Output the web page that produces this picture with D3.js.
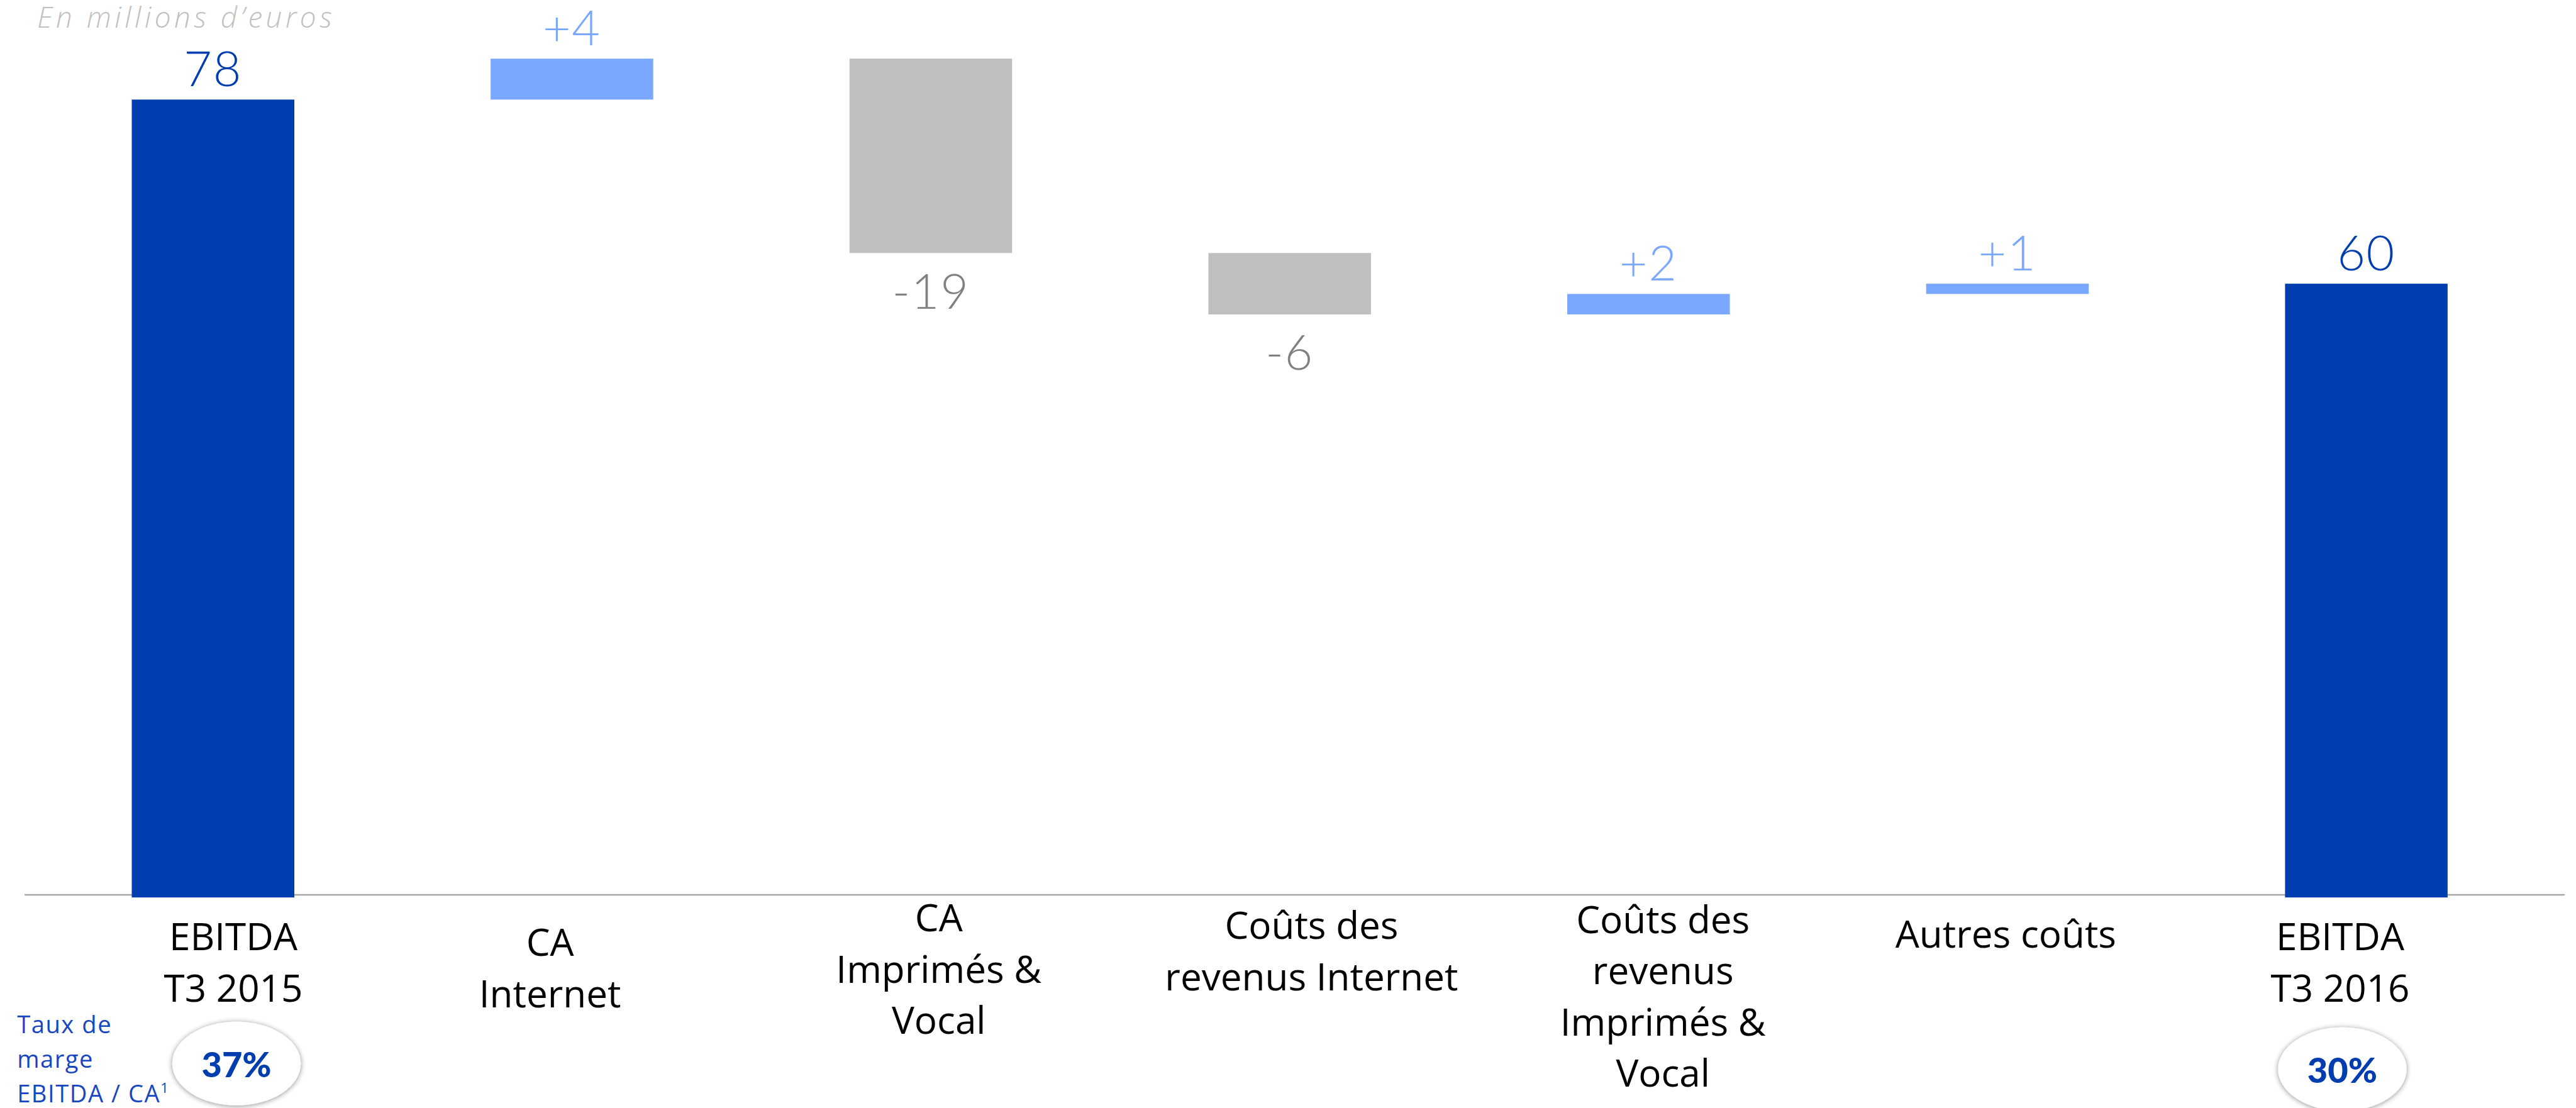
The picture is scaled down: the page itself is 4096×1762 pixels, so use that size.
<!DOCTYPE html>
<html lang="fr">
<head>
<meta charset="utf-8">
<script src="https://cdn.jsdelivr.net/npm/d3@7/dist/d3.min.js"></script>
<style>
  html, body { margin: 0; padding: 0; background: #ffffff; }
  svg { display: block; }
</style>
</head>
<body>
<svg id="chart" width="4096" height="1762"></svg>
<script>
// EBITDA bridge, T3 2015 -> T3 2016 (millions d'euros)
const categories = [
  ["EBITDA", "T3 2015"],
  ["CA", "Internet"],
  ["CA", "Imprimés &", "Vocal"],
  ["Coûts des", "revenus Internet"],
  ["Coûts des", "revenus", "Imprimés &", "Vocal"],
  ["Autres coûts"],
  ["EBITDA", "T3 2016"]
];
const values = [78, 4, -19, -6, 2, 1, 60];
const kinds = ["total", "delta", "delta", "delta", "delta", "delta", "total"];
const valueLabels = ["78", "+4", "-19", "-6", "+2", "+1", "60"];
const marginRates = ["37%", null, null, null, null, null, "30%"];
const unitNote = "En millions d\u2019euros";
const marginNote = ["Taux de", "marge", "EBITDA / CA"];

// Layout (drawn in a 4827 x 2077 frame, then scaled to the window)
const SCALE = 0.848;
const labelDx = [38, -41, 15, 41, 27, -3, -49];
const labelTop = [1782, 1793, 1747, 1761, 1750, 1777, 1782];
const lineGap = 96;
const ellipseDx = [44, 0, 0, 0, 0, 0, -45];
const ellipseCy = [1994.5, 0, 0, 0, 0, 0, 2005];

const colors = {
  total: "#003DAF",
  up: "#7AA7FF",
  down: "#BFBFBF",
  downText: "#808080",
  axis: "#A6A6A6",
  note: "#BFBFBF",
  noteBlue: "#1747C0"
};

const labelFont = "'Open Sans', Lato, sans-serif";
const numberFont = "Lato, 'Open Sans', sans-serif";

// Running totals for the waterfall
let running = 0;
const bars = values.map((v, i) => {
  let y0, y1;
  if (kinds[i] === "total") { y0 = 0; y1 = v; running = v; }
  else { y0 = running; y1 = running + v; running = y1; }
  return { i, v, y0, y1, kind: kinds[i], label: valueLabels[i] };
});

const svg = d3.select("#chart");
const defs = svg.append("defs");
const shadow = defs.append("filter").attr("id", "soft-shadow")
  .attr("x", "-30%").attr("y", "-30%").attr("width", "160%").attr("height", "160%");
shadow.append("feGaussianBlur").attr("in", "SourceAlpha").attr("stdDeviation", 5).attr("result", "blur");
shadow.append("feOffset").attr("in", "blur").attr("dx", 0).attr("dy", 1).attr("result", "off");
shadow.append("feComponentTransfer").attr("in", "off").attr("result", "faded")
  .append("feFuncA").attr("type", "linear").attr("slope", 0.45);
const merge = shadow.append("feMerge");
merge.append("feMergeNode").attr("in", "faded");
merge.append("feMergeNode").attr("in", "SourceGraphic");

const g = svg.append("g").attr("transform", `scale(${SCALE})`);

const x = d3.scaleBand()
  .domain(d3.range(categories.length))
  .range([63, 4773.5])
  .paddingInner(0.547)
  .paddingOuter(0.2735);

const y = d3.scaleLinear().domain([0, 82]).range([1683, 110]);

// Baseline
g.append("line")
  .attr("x1", 46).attr("x2", 4809)
  .attr("y1", 1678).attr("y2", 1678)
  .attr("stroke", colors.axis).attr("stroke-width", 3);

const fill = d => d.kind === "total" ? colors.total : (d.v >= 0 ? colors.up : colors.down);

// Bars
g.selectAll("rect.bar").data(bars).join("rect")
  .attr("class", "bar")
  .attr("x", d => x(d.i))
  .attr("width", x.bandwidth())
  .attr("y", d => y(Math.max(d.y0, d.y1)))
  .attr("height", d => Math.abs(y(d.y0) - y(d.y1)))
  .attr("fill", fill);

// Value labels: above for increases/totals, below for decreases
g.selectAll("text.val").data(bars).join("text")
  .attr("class", "val")
  .attr("x", d => x(d.i) + x.bandwidth() / 2)
  .attr("y", d => d.v >= 0 ? y(Math.max(d.y0, d.y1)) - 25 : y(Math.min(d.y0, d.y1)) + 104)
  .attr("text-anchor", "middle")
  .attr("font-family", numberFont)
  .attr("font-weight", 300)
  .attr("font-size", 91)
  .attr("letter-spacing", 2)
  .attr("fill", d => d.kind === "total" ? colors.total : (d.v >= 0 ? colors.up : colors.downText))
  .text(d => d.label);

// Category labels
const catG = g.selectAll("text.cat").data(categories).join("text")
  .attr("class", "cat")
  .attr("text-anchor", "middle")
  .attr("font-family", labelFont)
  .attr("font-weight", 400)
  .attr("font-size", 71)
  .attr("fill", "#000000");
catG.each(function(lines, i) {
  const cx = x(i) + x.bandwidth() / 2 + labelDx[i];
  d3.select(this).selectAll("tspan").data(lines).join("tspan")
    .attr("x", cx)
    .attr("y", (l, k) => labelTop[i] + k * lineGap)
    .text(l => l);
});

// Unit note
g.append("text")
  .attr("x", 70).attr("y", 52)
  .attr("font-family", labelFont)
  .attr("font-style", "italic")
  .attr("font-weight", 300)
  .attr("font-size", 54)
  .attr("letter-spacing", 6.5)
  .attr("fill", colors.note)
  .text(unitNote);

// Margin note
const note = g.append("text")
  .attr("font-family", labelFont)
  .attr("font-weight", 400)
  .attr("font-size", 45)
  .attr("letter-spacing", 1.8)
  .attr("fill", colors.noteBlue);
note.selectAll("tspan.l").data(marginNote).join("tspan")
  .attr("class", "l")
  .attr("x", 32)
  .attr("y", (l, k) => 1938 + k * 64.5)
  .text(l => l);
note.append("tspan")
  .attr("dy", -18)
  .attr("font-size", 26)
  .text("1");

// Margin ellipses
const rates = marginRates.map((r, i) => ({ r, i })).filter(d => d.r);
const badge = g.selectAll("g.badge").data(rates).join("g").attr("class", "badge");
badge.append("ellipse")
  .attr("cx", d => x(d.i) + x.bandwidth() / 2 + ellipseDx[d.i])
  .attr("cy", d => ellipseCy[d.i])
  .attr("rx", 120.5).attr("ry", 78.5)
  .attr("fill", "#ffffff")
  .attr("filter", "url(#soft-shadow)");
badge.append("text")
  .attr("x", d => x(d.i) + x.bandwidth() / 2 + ellipseDx[d.i])
  .attr("y", d => ellipseCy[d.i] + 26)
  .attr("text-anchor", "middle")
  .attr("font-family", numberFont)
  .attr("font-weight", 900)
  .attr("font-size", 66)
  .attr("fill", colors.total)
  .text(d => d.r);
</script>
</body>
</html>
